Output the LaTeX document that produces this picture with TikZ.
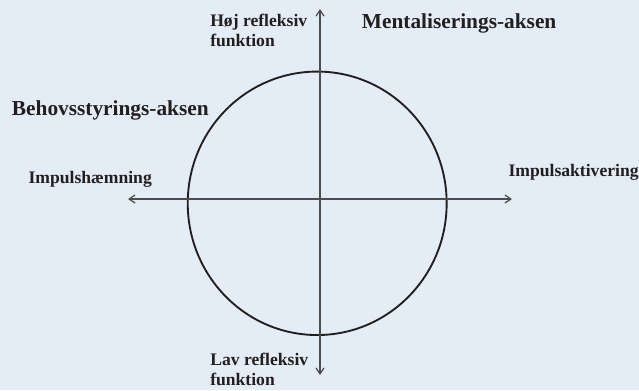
\documentclass[tikz,border=0pt]{standalone}
\usepackage{fontspec}
\setmainfont{Liberation Serif}
\usetikzlibrary{arrows.meta}
\definecolor{baggrund}{HTML}{E4ECF6}
\definecolor{tekstfarve}{HTML}{231F20}
\definecolor{aksefarve}{HTML}{4D4D4D}
\tikzstyle{overskrift} = [inner sep=0pt, text=tekstfarve, font=\fontsize{16}{18}\selectfont\bfseries]
\tikzstyle{etiket} = [inner sep=0pt, text=tekstfarve, align=left, font=\fontsize{13.2}{15}\selectfont\bfseries]
\tikzstyle{akse} = [draw=aksefarve, line width=0.9pt, {Straight Barb[length=4.5pt,width=6pt]}-{Straight Barb[length=4.5pt,width=6pt]}]
\tikzstyle{cirkel} = [draw=tekstfarve, line width=1.4pt]

\begin{document}
\begin{tikzpicture}[x=0.75pt, y=-0.75pt]
                \fill[baggrund] (0,0) rectangle (639,390);
                \useasboundingbox (0,0) rectangle (639,390);
                \coordinate (op) at (320,9);
                \coordinate (ned) at (320,375);
                \coordinate (venstre) at (128,199);
                \coordinate (hoejre) at (512,199);
                \draw [cirkel] (317.2,203.3) ellipse [x radius=97.1pt, y radius=98.8pt];
                \draw [akse] (ned) -- (op);
                \draw [akse] (venstre) -- (hoejre);
                \node (hoej) [etiket, anchor=base west] at (210,46.8) {Høj refleksiv\\funktion};
                \node (lav) [etiket, anchor=base west] at (210,385.3) {Lav refleksiv\\funktion};
                \node (mental) [overskrift, anchor=base west] at (361.7,28.3) {Mentaliserings-aksen};
                \node (behov) [overskrift, anchor=base west] at (11.7,115) {Behovsstyrings-aksen};
                \node (haemning) [etiket, anchor=base west] at (28.3,183.3) {Impulshæmning};
                \node (aktivering) [etiket, anchor=base west] at (508.3,176.7) {Impulsaktivering};
            \end{tikzpicture}
\end{document}
